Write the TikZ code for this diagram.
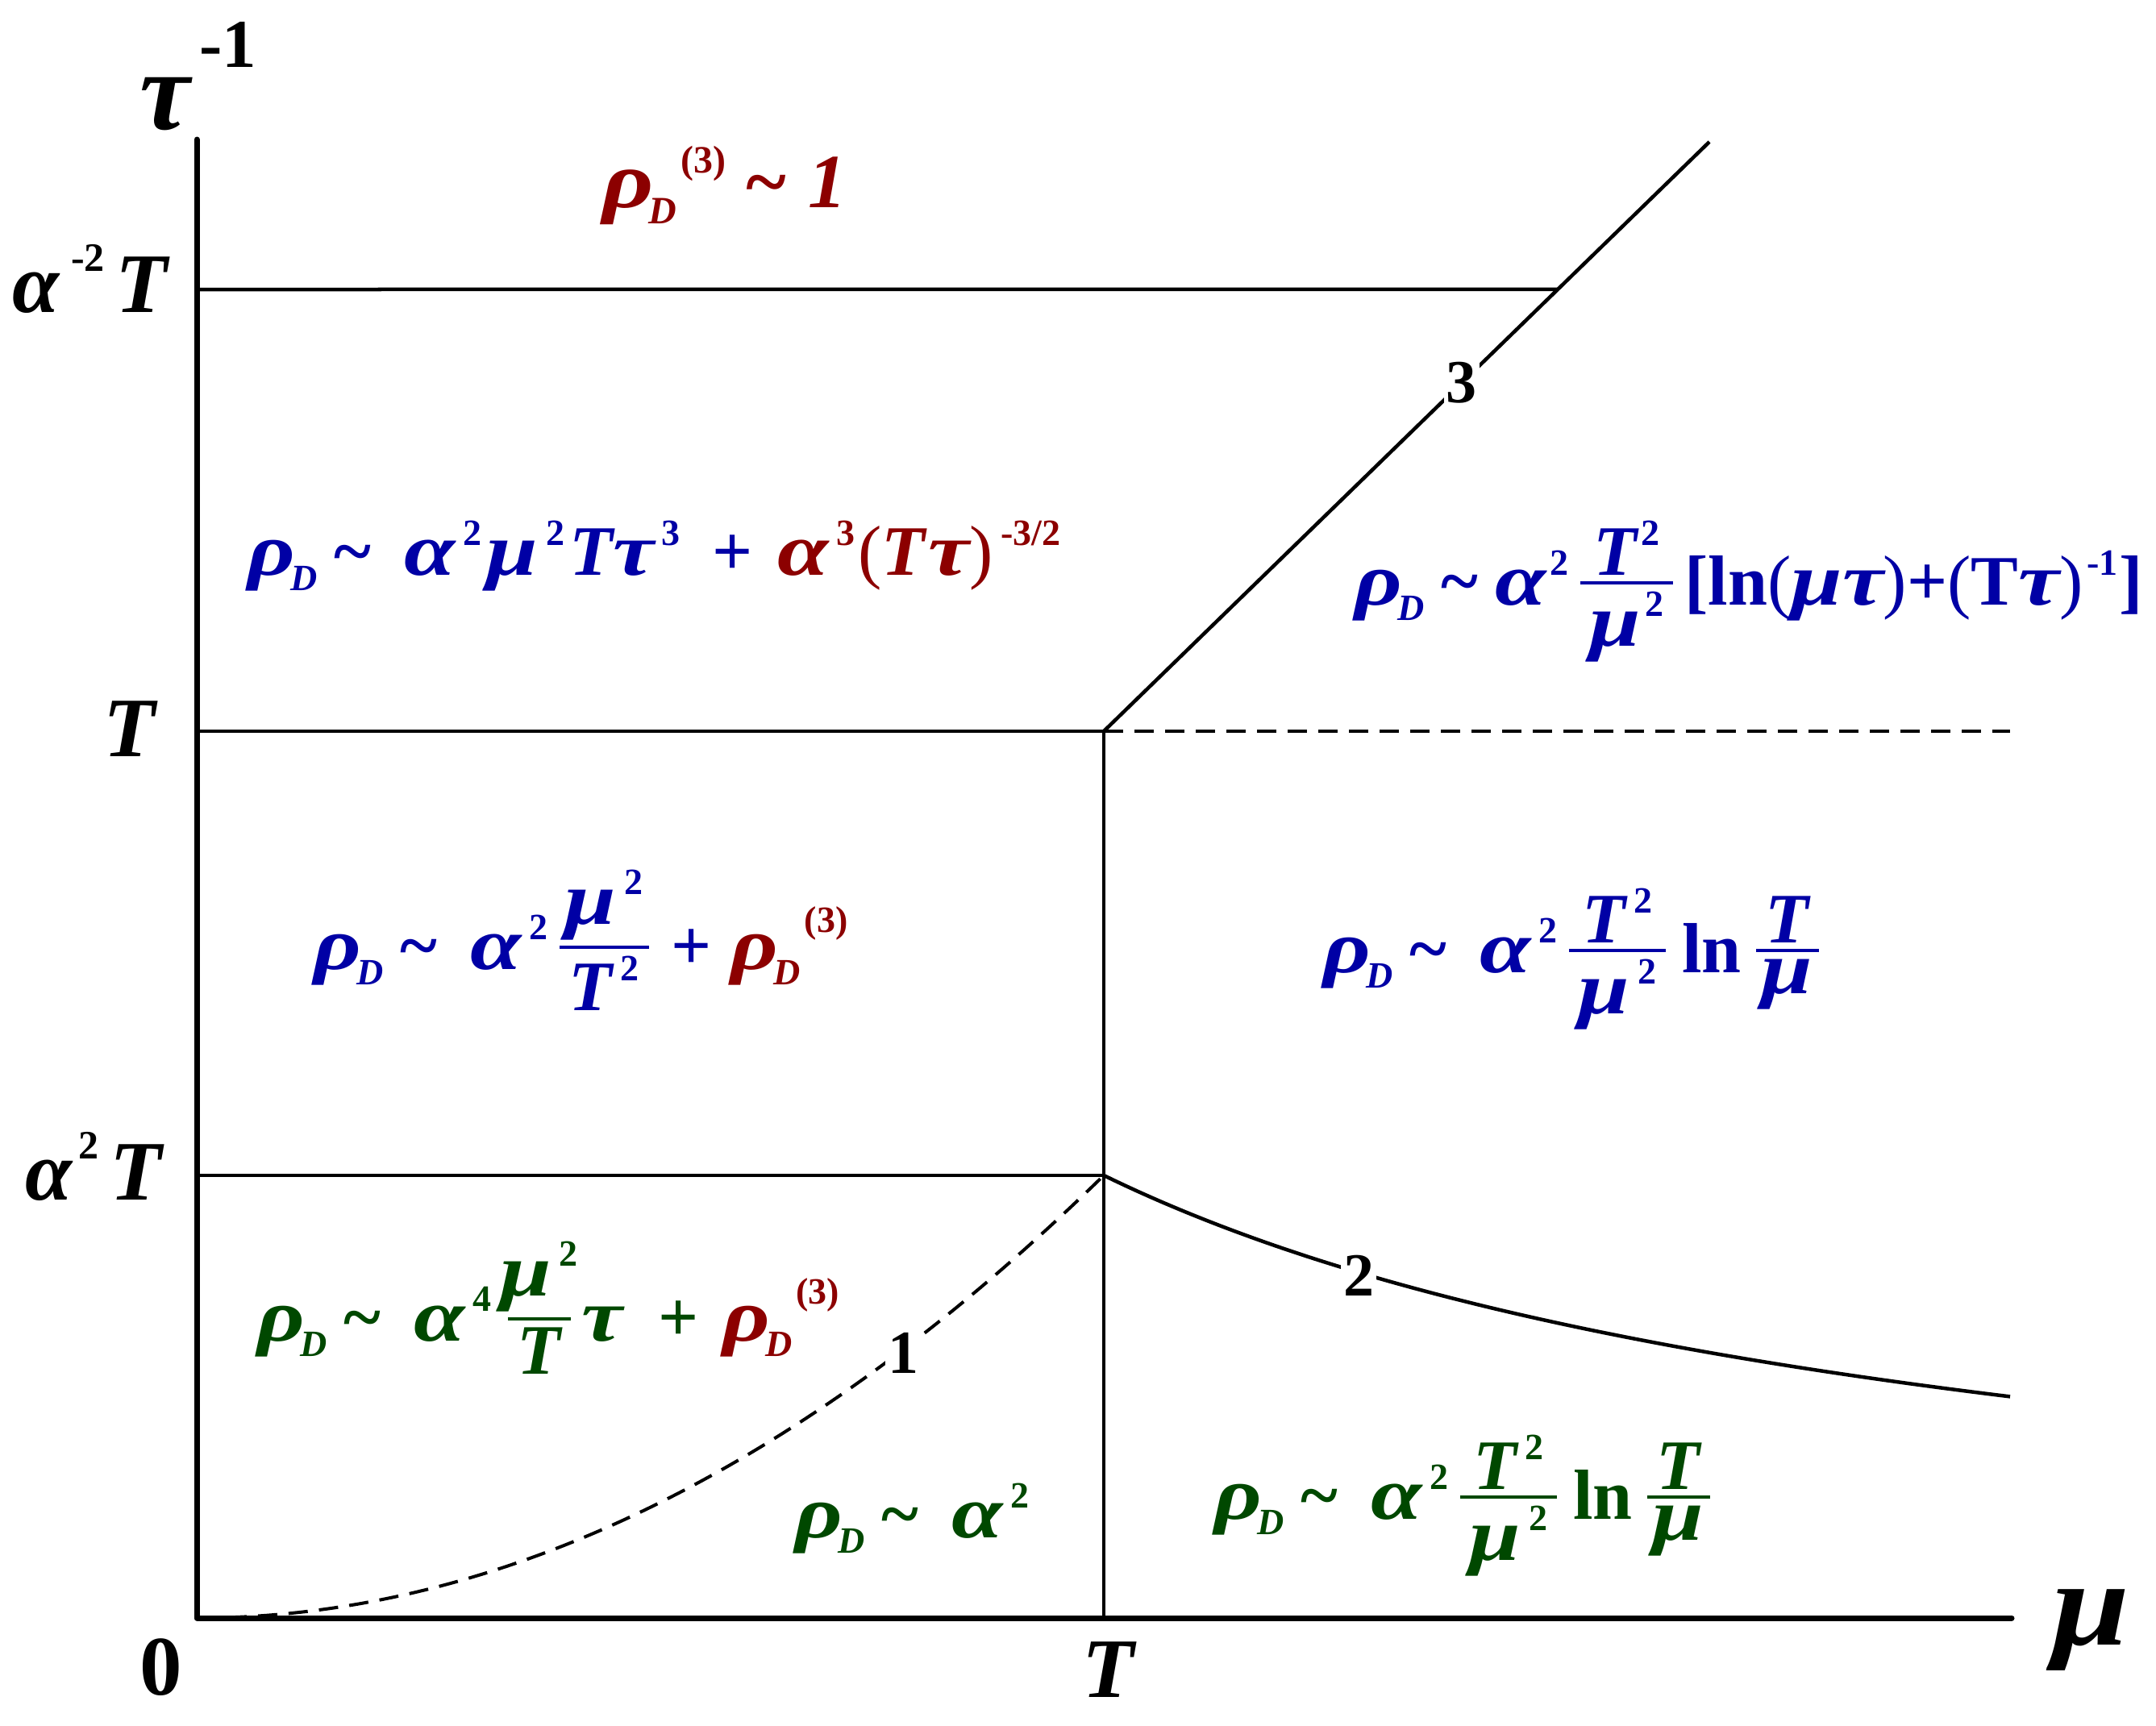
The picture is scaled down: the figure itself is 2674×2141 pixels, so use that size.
\documentclass[tikz,border=0pt]{standalone}
\usepackage{fontspec}
\usepackage{graphicx}
\setmainfont{Liberation Serif}
\usetikzlibrary{calc}
\definecolor{dred}{RGB}{140,0,0}
\definecolor{dblue}{RGB}{0,0,165}
\definecolor{dgreen}{RGB}{0,72,0}
\def\scrsz{46pt}
\def\sqr{0.52em}
\def\spk{10pt}
\def\frk{14pt}
\newcommand\scr{\fontsize{\scrsz}{\scrsz}\selectfont}
\newcommand\gk[1]{\scalebox{1.3}[1.05]{#1}}
\newcommand\ra{\gk{ρ}}
\newcommand\al{\gk{α}}
\newcommand\mmu{\gk{μ}}
\newcommand\ta{\gk{τ}}
\newcommand\Sb[1]{\kern-6pt\raisebox{-0.22em}{\scr #1}}
\newcommand\Sp[1]{\kern\spk\raisebox{0.42em}{\scr\upshape #1}}
\newcommand\Sq[1]{\kern5pt\raisebox{\sqr}{\scr\upshape #1}}
\newcommand\til{\textasciitilde}
\newcommand\tl{\hspace{18pt}\til\hspace{40pt}}
\newcommand\up[1]{\textup{#1}}
\newcommand\lp{{\mdseries\upshape(}}
\newcommand\rp{{\mdseries\upshape)}}
\newcommand\rD{\ra\Sb{D}}
\newlength\frw
\newcommand\Fr[2]{\setbox0\hbox{#1}\setbox2\hbox{#2}%
 \frw=\wd0 \ifdim\wd2>\frw \frw=\wd2\fi \advance\frw 24pt
 \kern\frk\rlap{\raise0.28em\vbox{\hbox to\frw{\hss\box0\hss}\kern0.08em\hrule height 4.5pt}}%
 \raise0.28em\vtop{\kern0.1em\hbox to\frw{\hss\box2\hss}}\kern\frk}
\begin{document}
\begin{tikzpicture}[x=1pt,y=-1pt,
 ax/.style={line width=7pt,line cap=round,line join=round},
 bd/.style={line width=4.5pt},
 dsh/.style={line width=4pt,dash pattern=on 24pt off 14pt},
 lab/.style={font=\fontsize{76}{76}\selectfont\bfseries, fill=white, inner sep=3pt},
 fm/.style={anchor=base west, inner sep=0pt, font=\fontsize{88}{88}\selectfont\bfseries\itshape},
 axl/.style={inner sep=0pt, font=\fontsize{105}{105}\selectfont\bfseries\itshape}]
\fill[white] (0,0) rectangle (2674,2141);
\useasboundingbox (0,0) rectangle (2674,2141);
\coordinate (O) at (244,2007);
\coordinate (Ytop) at (244,173);
\coordinate (Xend) at (2495,2007);
\coordinate (A) at (244,359);
\coordinate (TT) at (1369,907);
\coordinate (L3) at (2120,176);
\coordinate (B) at ($(TT)!0.7497!(L3)$);
\coordinate (Tl) at (244,907);
\coordinate (Tr) at (2493,907);
\coordinate (Al) at (244,1458);
\coordinate (AT) at (1369,1458);
\coordinate (Tx) at (1369,2007);

\draw[ax] (Ytop) -- (O) -- (Xend);
\draw[bd] (A) -- (B);
\draw[bd] (Tl) -- (TT);
\draw[dsh] (TT) -- (Tr);
\draw[bd] (Al) -- (AT);
\draw[bd] (TT) -- (Tx);
\draw[bd] (TT) -- node[lab,pos=0.591] (n3) {3} (L3);
\draw[bd] plot[domain=1369:2493,samples=80] (\x,{2007-549*(1125/(\x-244))});
\draw[dsh] plot[domain=244:1369,samples=80] (\x,{2007-549*((\x-244)/1125)^2});
\node[lab] (n2) at (1685,1582) {2};
\node[lab] (n1) at (1120,1678) {1};

\node[axl,anchor=base west] (tau) at (173,160) {\fontsize{140}{140}\selectfont τ\kern12pt\raisebox{0.55em}{\fontsize{85}{85}\selectfont\upshape -1}};
\node[axl,anchor=base west] (ya) at (15,387) {α\kern15pt\raisebox{0.48em}{\fontsize{50}{50}\selectfont\upshape -2}\kern14pt T};
\node[axl,anchor=base west] (yt) at (128,938) {T};
\node[axl,anchor=base west] (yb) at (31,1488) {α\kern8pt\raisebox{0.48em}{\fontsize{50}{50}\selectfont\upshape 2}\kern14pt T};
\node[axl,anchor=base,font=\fontsize{105}{105}\selectfont\bfseries] (zero) at (200,2102) {0};
\node[axl,anchor=base] (xt) at (1375,2105) {T};
\node[axl,anchor=base west,font=\fontsize{150}{150}\selectfont\bfseries\itshape] (mu) at (2545,2040) {\scalebox{1.15}[1]{μ}};

\node[fm,text=dred,font=\fontsize{95}{95}\selectfont\bfseries\itshape] (f1) at (747,257) {\def\scrsz{48pt}\def\sqr{0.45em}\rD\Sq{(3)}\hspace{22pt}\til\hspace{26pt}1};
\node[fm,text=dblue] (f2) at (307,713) {\rD\tl\al\Sp{2}\kern6pt\mmu\Sp{2}\kern6pt T\ta\Sp{3}\hspace{40pt}\up{+}\hspace{30pt}\textcolor{dred}{\al\Sp{3}\kern4pt\lp T\kern4pt\ta\rp\Sp{-3/2}}};
\node[fm,text=dblue] (f3) at (1680,750) {\def\spk{5pt}\rD\hspace{18pt}\til\hspace{20pt}\al\Sp{2}\Fr{T\Sp{2}}{\mmu\Sp{2}}\up{[ln}\lp\mmu\ta\rp\up{+}\lp\up{T}\ta\rp\Sp{-1}\kern2pt\up{]}};
\node[fm,text=dblue] (f4) at (389,1202) {\rD\tl\al\Sp{2}\Fr{\mmu\Sp{2}}{T\Sp{2}}\hspace{14pt}\up{+}\hspace{24pt}\textcolor{dred}{\rD\Sq{(3)}}};
\node[fm,text=dblue] (f5) at (1641,1206) {\rD\tl\al\Sp{2}\Fr{T\Sp{2}}{\mmu\Sp{2}}\hspace{6pt}\up{ln}\hspace{4pt}\Fr{T}{\mmu}};
\node[fm,text=dgreen] (f6) at (319,1663) {\rD\tl\al\Sp{4}\kern6pt\Fr{\mmu\Sp{2}}{T}\ta\hspace{44pt}\up{+}\hspace{30pt}\textcolor{dred}{\rD\Sq{(3)}}};
\node[fm,text=dgreen] (f7) at (986,1907) {\rD\tl\al\Sp{2}};
\node[fm,text=dgreen] (f8) at (1506,1884) {\rD\tl\al\Sp{2}\Fr{T\Sp{2}}{\mmu\Sp{2}}\hspace{6pt}\up{ln}\hspace{4pt}\Fr{T}{\mmu}};
\end{tikzpicture}
\end{document}
